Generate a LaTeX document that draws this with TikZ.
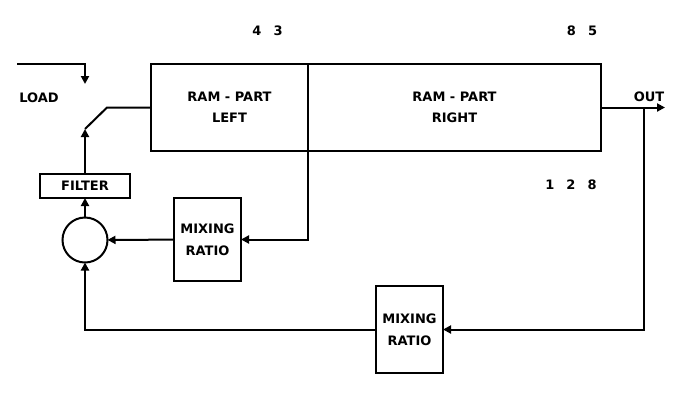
\documentclass[tikz,border=0pt]{standalone}
\usepackage{fontspec}
\setmainfont{DejaVu Sans}
\usetikzlibrary{arrows.meta}
\begin{document}
\begin{tikzpicture}[x=1pt,y=-1pt,line width=2pt,
  box/.style={draw,line width=2pt,inner sep=0pt,outer sep=0pt,font=\bfseries\fontsize{13}{22}\selectfont,align=center},
  lbl/.style={font=\bfseries\fontsize{13}{15}\selectfont,inner sep=0pt},
  arr/.style={-{Triangle[length=8pt,width=8pt]}}]
\useasboundingbox (0,0) rectangle (700,400);
% blocks
\node[box,minimum width=157,minimum height=87,font=\bfseries\fontsize{13}{21}\selectfont] (raml) at (229.5,107.5) {RAM - PART\\LEFT};
\node[box,minimum width=293,minimum height=87,font=\bfseries\fontsize{13}{21}\selectfont] (ramr) at (454.5,107.5) {RAM - PART\\RIGHT};
\node[box,minimum width=90,minimum height=24] (filter) at (85,186) {FILTER};
\node[draw,circle,minimum size=45,inner sep=0pt,outer sep=0pt,line width=2pt] (sum) at (85,240) {};
\node[box,minimum width=67,minimum height=83] (mix1) at (207.5,239.5) {MIXING\\RATIO};
\node[box,minimum width=67,minimum height=87] (mix2) at (409.5,329.5) {MIXING\\RATIO};
% labels
\node[lbl] (load) at (39,98) {LOAD};
\node[lbl] (outl) at (649,97) {OUT};
\node[lbl] (n43) at (267.5,31) {4\hspace{12pt}3};
\node[lbl] (n85) at (582,31) {8\hspace{12pt}5};
\node[lbl] (n128) at (571,185) {1\hspace{12pt}2\hspace{12pt}8};
% coordinates
\coordinate (in0) at (17,64);
\coordinate (in1) at (85,64);
\coordinate (in2) at (85,84);
\coordinate (sw1) at (85,129);
\coordinate (sw2) at (107,107.5);
\coordinate (out) at (665,107.5);
\coordinate (tap) at (644,107.5);
% connectors
\draw[arr] (in0) -- (in1) -- (in2);
\draw (sw1) -- (sw2) -- (raml.west);
\draw[arr] (filter.north) -- (sw1);
\draw[arr] (sum) -- (filter);
\draw[arr] (raml.south east) -- (raml.south east |- mix1.east) -- (mix1.east);
\draw[arr] (mix1) -- (sum);
\draw[arr] (ramr.east) -- (out);
\draw[arr] (tap) -- (tap |- mix2.east) -- (mix2.east);
\draw[arr] (mix2.west) -- (sum |- mix2.west) -- (sum.south);
\end{tikzpicture}
\end{document}
